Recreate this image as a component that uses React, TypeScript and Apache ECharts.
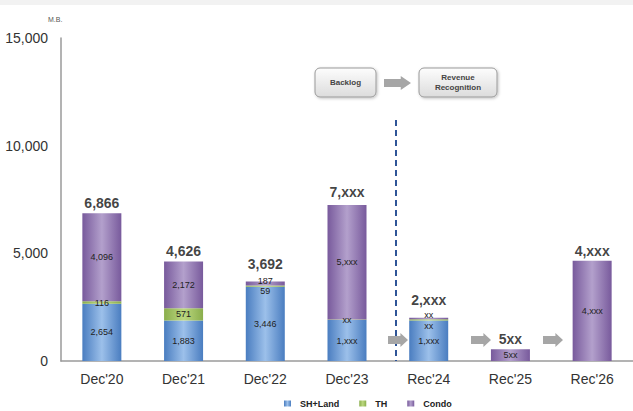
import React, { useEffect, useRef } from "react";
import * as echarts from "echarts";

const categories = ["Dec'20", "Dec'21", "Dec'22", "Dec'23", "Rec'24", "Rec'25", "Rec'26"];
const shLand = [2654, 1883, 3446, 1900, 1880, 0, 0];
const th = [116, 571, 59, 30, 60, 0, 0];
const condo = [4096, 2172, 187, 5320, 70, 540, 4660];
const shLandLabels = ["2,654", "1,883", "3,446", "1,xxx", "1,xxx", "", ""];
const thLabels = ["116", "571", "59", "xx", "xx", "", ""];
const condoLabels = ["4,096", "2,172", "187", "5,xxx", "xx", "5xx", "4,xxx"];
const totals = [6866, 4626, 3692, 7250, 2010, 540, 4660];
const totalLabels = ["6,866", "4,626", "3,692", "7,xxx", "2,xxx", "5xx", "4,xxx"];
const yTicks = [0, 5000, 10000, 15000];

const FONT = "'Liberation Sans', Arial, sans-serif";

function grad(edge: string, mid: string) {
  return new echarts.graphic.LinearGradient(0, 0, 1, 0, [
    { offset: 0, color: edge },
    { offset: 0.5, color: mid },
    { offset: 1, color: edge },
  ]);
}

function arrowPoints(x0: number, cy: number, len: number) {
  const shaftEnd = x0 + len * 0.62;
  return [
    [x0, cy - 4],
    [shaftEnd, cy - 4],
    [shaftEnd, cy - 7],
    [x0 + len, cy],
    [shaftEnd, cy + 7],
    [shaftEnd, cy + 4],
    [x0, cy + 4],
  ];
}

export default function App() {
  const ref = useRef<HTMLDivElement>(null);
  useEffect(() => {
    if (!ref.current) return;
    const chart = echarts.init(ref.current, undefined, { renderer: "svg" });
    const insideLabel = {
      show: true,
      position: "inside" as const,
      fontSize: 9,
      color: "#222",
      fontFamily: FONT,
    };
    const thOffsets: Record<number, number[]> = { 2: [0, 5], 4: [0, 6] };
    const condoOffsets: Record<number, number[]> = { 2: [0, -3], 4: [0, -3] };
    const totalDistances: Record<number, number> = { 2: 9, 3: 5, 4: 10 };

    const boxStyle = {
      fill: new echarts.graphic.LinearGradient(0, 0, 0, 1, [
        { offset: 0, color: "#fdfdfd" },
        { offset: 1, color: "#dcdcdc" },
      ]),
      stroke: "#9a9a9a",
      lineWidth: 1,
      shadowBlur: 3,
      shadowColor: "rgba(0,0,0,0.25)",
      shadowOffsetX: 1,
      shadowOffsetY: 1,
    };

    chart.setOption({
      animation: false,
      backgroundColor: "#ffffff",
      grid: { left: 61, top: 38, width: 581, height: 323 },
      legend: {
        data: ["SH+Land", "TH", "Condo"],
        left: 284,
        top: 399,
        padding: 0,
        icon: "rect",
        itemWidth: 7,
        itemHeight: 6,
        itemGap: 20,
        textStyle: { fontSize: 9, fontWeight: "bold", color: "#222", fontFamily: FONT, padding: [0, 0, 0, 4] },
      },
      xAxis: {
        type: "category",
        data: categories,
        axisLine: { lineStyle: { color: "#9a9a9a", width: 1.5 } },
        axisTick: { show: false },
        axisLabel: { fontSize: 14, color: "#333", margin: 11, fontFamily: FONT },
      },
      yAxis: {
        type: "value",
        min: 0,
        max: 15000,
        interval: 5000,
        splitLine: { show: false },
        axisLine: { show: true, lineStyle: { color: "#9a9a9a", width: 1.5 } },
        axisTick: { show: false },
        axisLabel: {
          fontSize: 14,
          color: "#333",
          margin: 13,
          fontFamily: FONT,
          formatter: (v: number) => (yTicks.includes(v) ? v.toLocaleString("en-US") : ""),
        },
      },
      series: [
        {
          name: "SH+Land",
          type: "bar",
          stack: "total",
          barWidth: 39,
          itemStyle: { color: grad("#4a7dc0", "#9cc0ea") },
          data: shLand.map((v) => ({ value: v === 0 ? null : v })),
          label: { ...insideLabel, formatter: (p: any) => shLandLabels[p.dataIndex] },
        },
        {
          name: "TH",
          type: "bar",
          stack: "total",
          barWidth: 39,
          itemStyle: { color: grad("#8aae4c", "#bcd880") },
          data: th.map((v, i) => ({
            value: v === 0 ? null : v,
            label: thOffsets[i] ? { offset: thOffsets[i] } : undefined,
          })),
          label: { ...insideLabel, formatter: (p: any) => thLabels[p.dataIndex] },
        },
        {
          name: "Condo",
          type: "bar",
          stack: "total",
          barWidth: 39,
          itemStyle: { color: grad("#785a9c", "#b3a0cc") },
          data: condo.map((v, i) => ({
            value: v === 0 ? null : v,
            label: condoOffsets[i] ? { offset: condoOffsets[i] } : undefined,
          })),
          label: { ...insideLabel, formatter: (p: any) => condoLabels[p.dataIndex] },
        },
        {
          name: "Total",
          type: "scatter",
          symbol: "circle",
          symbolSize: 2,
          itemStyle: { color: "rgba(255,255,255,0)" },
          data: totals.map((v, i) => ({
            value: v,
            label: totalDistances[i] ? { distance: totalDistances[i] } : undefined,
          })),
          label: {
            show: true,
            position: "top",
            distance: 2,
            fontSize: 14,
            fontWeight: "bold",
            color: "#111",
            fontFamily: FONT,
            formatter: (p: any) => totalLabels[p.dataIndex],
          },
          z: 5,
        },
      ],
      graphic: [
        { type: "rect", shape: { x: 0, y: 0, width: 633, height: 5 }, style: { fill: "#f2f2f2" }, silent: true },
        {
          type: "text",
          left: 48,
          top: 16,
          style: { text: "M.B.", fontSize: 7, fill: "#555", fontFamily: FONT },
        },
        {
          type: "line",
          shape: { x1: 396, y1: 120, x2: 396, y2: 361 },
          style: { stroke: "#2f5597", lineWidth: 2, lineDash: [6, 4] },
          z: 10,
        },
        {
          type: "rect",
          shape: { x: 315, y: 68, width: 61, height: 29, r: 5 },
          style: boxStyle,
          z: 10,
        },
        {
          type: "text",
          x: 345.5,
          y: 82.5,
          style: {
            text: "Backlog",
            fontSize: 8,
            fontWeight: "bold",
            fill: "#444",
            fontFamily: FONT,
            align: "center",
            verticalAlign: "middle",
          },
          z: 11,
        },
        {
          type: "rect",
          shape: { x: 419, y: 68, width: 78, height: 29, r: 5 },
          style: boxStyle,
          z: 10,
        },
        {
          type: "text",
          x: 458,
          y: 82.5,
          style: {
            text: "Revenue\nRecognition",
            fontSize: 8,
            fontWeight: "bold",
            fill: "#444",
            fontFamily: FONT,
            align: "center",
            verticalAlign: "middle",
            lineHeight: 10,
          },
          z: 11,
        },
        { type: "polygon", shape: { points: arrowPoints(384, 83, 27) }, style: { fill: "#a6a6a6" }, z: 10 },
        { type: "polygon", shape: { points: arrowPoints(388, 340, 20) }, style: { fill: "#a6a6a6" }, z: 10 },
        { type: "polygon", shape: { points: arrowPoints(471, 340, 20) }, style: { fill: "#a6a6a6" }, z: 10 },
        { type: "polygon", shape: { points: arrowPoints(543, 340, 20) }, style: { fill: "#a6a6a6" }, z: 10 },
      ],
    });
    return () => chart.dispose();
  }, []);
  return (
    <div
      ref={ref}
      style={{ position: "fixed", left: 0, top: 0, width: 633, height: 411 }}
    />
  );
}
